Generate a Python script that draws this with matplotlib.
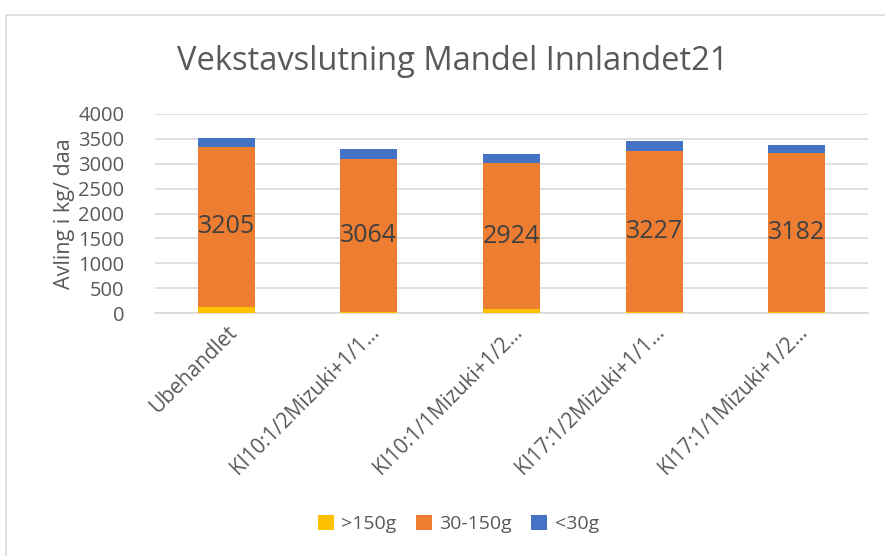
import numpy as np
import matplotlib.pyplot as plt
from matplotlib.patches import Rectangle

categories = ["Ubehandlet", "Kl10:1/2Mizuki+1/1…", "Kl10:1/1Mizuki+1/2…",
              "Kl17:1/2Mizuki+1/1…", "Kl17:1/1Mizuki+1/2…"]
big = [130, 20, 80, 25, 25]          # >150g
mid = [3205, 3064, 2924, 3227, 3182]  # 30-150g
small = [180, 200, 180, 200, 175]     # <30g

plt.rcParams["font.family"] = ["Open Sans", "DejaVu Sans"]
txt = "#595959"

fig = plt.figure(figsize=(8.85, 5.56), dpi=100)
fig.patches.append(Rectangle((6 / 885, -0.01), 1.0, 1 - 15 / 556 + 0.01,
                             transform=fig.transFigure, fill=False,
                             edgecolor="#d9d9d9", linewidth=1.2))
ax = fig.add_axes([0.175, 0.4365, 0.806, 0.359])

x = np.arange(len(categories))
w = 0.4
big = np.array(big)
mid = np.array(mid)
small = np.array(small)
ax.bar(x, big, w, color="#FFC000", label=">150g", zorder=3)
ax.bar(x, mid, w, bottom=big, color="#ED7D31", label="30-150g", zorder=3)
ax.bar(x, small, w, bottom=big + mid, color="#4472C4", label="<30g", zorder=3)

for i in range(len(x)):
    ax.text(x[i], big[i] + mid[i] / 2, str(mid[i]), ha="center", va="center",
            fontsize=18, color="#404040", zorder=4)

ax.set_xlim(-0.5, len(x) - 0.5)
ax.set_ylim(0, 4000)
ax.set_yticks(np.arange(0, 4001, 500))
ax.yaxis.grid(True, color="#d9d9d9", linewidth=1.2, zorder=0)
for s in ["top", "right", "left"]:
    ax.spines[s].set_visible(False)
ax.spines["bottom"].set_color("#d9d9d9")
ax.spines["bottom"].set_linewidth(1.2)
ax.tick_params(axis="both", length=0, labelsize=14.5, colors=txt)
ax.tick_params(axis="y", pad=22)
ax.tick_params(axis="x", pad=6)
ax.set_xticks(x)
ax.set_xticklabels(categories, rotation=45, ha="right", rotation_mode="anchor",
                   fontsize=15)
ax.set_ylabel("Avling i kg/ daa", fontsize=15.5, color=txt, labelpad=2)

fig.text(0.512, 0.89, "Vekstavslutning Mandel Innlandet21", ha="center",
         va="center", fontsize=23.5, color=txt)
fig.legend(loc="center", bbox_to_anchor=(0.518, 0.057), ncol=3, frameon=False,
           fontsize=14, handlelength=0.8, handleheight=0.8, handletextpad=0.4,
           columnspacing=1.0, labelcolor=txt)

fig.savefig("out.png", dpi=100)
